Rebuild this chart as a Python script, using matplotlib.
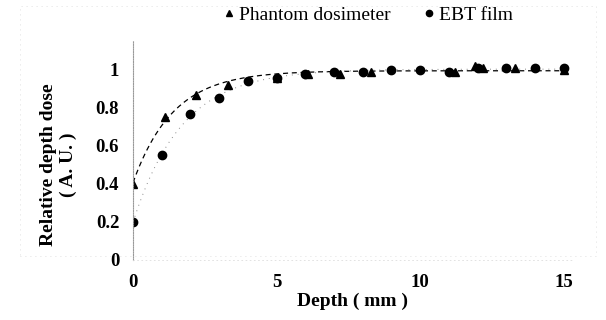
import numpy as np
import matplotlib
matplotlib.use("Agg")
import matplotlib.pyplot as plt
from matplotlib.lines import Line2D

# Data
ebt_x = [0, 1, 2, 3, 4, 5, 6, 7, 8, 9, 10, 11, 12, 13, 14, 15]
ebt_y = [0.20, 0.55, 0.77, 0.85, 0.94, 0.96, 0.98, 0.99, 0.99, 1.00, 1.00, 0.99, 1.01, 1.01, 1.01, 1.01]
ph_x = [0, 1.1, 2.2, 3.3, 5.0, 6.1, 7.2, 8.3, 11.2, 11.9, 12.2, 13.3, 15.0]
ph_y = [0.40, 0.75, 0.87, 0.92, 0.96, 0.98, 0.98, 0.99, 0.99, 1.02, 1.01, 1.01, 1.00]
xticks = [0, 5, 10, 15]
yticks = [0, 0.2, 0.4, 0.6, 0.8, 1.0]
ytick_labels = ["0", "0.2", "0.4", "0.6", "0.8", "1"]

def sat_fit(x, y):
    x = np.asarray(x, float); y = np.asarray(y, float)
    best = None
    for c in np.linspace(0.3, 5, 300):
        M = np.column_stack([np.ones_like(x), -np.exp(-x / c)])
        coef, *_ = np.linalg.lstsq(M, y, rcond=None)
        r = np.sum((M @ coef - y) ** 2)
        if best is None or r < best[0]:
            best = (r, coef, c)
    _, (A, B), c = best
    return lambda t: A - B * np.exp(-t / c)

plt.rcParams['font.family'] = ['Liberation Serif', 'DejaVu Serif']
fig = plt.figure(figsize=(6.06, 3.2), dpi=100)
ax = fig.add_axes([0.2195, 0.1875, 0.725, 0.683])

t = np.linspace(0, 15, 300)
f_ph = sat_fit(ph_x, ph_y)
f_ebt = sat_fit(ebt_x, ebt_y)
ax.plot(t, f_ph(t), color='black', lw=0.9, ls=(0, (4, 3)))
ax.plot(t, f_ebt(t), color='#888888', lw=0.7, ls=(0, (1, 5)))
ax.plot(ebt_x, ebt_y, 'o', color='black', ms=6, ls='none')
ax.plot(ph_x, ph_y, '^', color='black', ms=6, ls='none')

ax.set_xlim(0, 15.3)
ax.set_ylim(0, 1.15)
ax.set_xticks(xticks)
ax.set_yticks(yticks)
ax.set_yticklabels(ytick_labels)
for s in ['top', 'right']:
    ax.spines[s].set_visible(False)
ax.spines['left'].set_color('#999999')
ax.spines['left'].set_linestyle((0, (1, 1.2)))
ax.spines['left'].set_linewidth(0.8)
ax.spines['bottom'].set_color('#dddddd')
ax.spines['bottom'].set_linestyle((0, (1, 4)))
ax.spines['bottom'].set_linewidth(0.6)
ax.tick_params(length=0, labelsize=13.5, pad=10)
for lab in ax.get_xticklabels() + ax.get_yticklabels():
    lab.set_fontweight('bold')
ax.set_xlabel('Depth ( mm )', fontsize=14, fontweight='bold', labelpad=1)
ax.set_ylabel('Relative depth dose\n( A. U. )', fontsize=14, fontweight='bold')
ax.yaxis.set_label_coords(-0.128, 0.435)

handles = [Line2D([], [], marker='^', color='black', ls='none', ms=4),
           Line2D([], [], marker='o', color='black', ls='none', ms=4.5)]
fig.legend(handles, ['Phantom dosimeter', 'EBT film'], loc='center left', bbox_to_anchor=(0.365, 0.952),
           ncol=2, frameon=False, handletextpad=0.1, columnspacing=1.6, handlelength=0.8,
           borderaxespad=0, borderpad=0, prop={'size': 14})

# faint dotted outer border
fig.patches.append(plt.Rectangle((0.033, 0.2), 0.95, 0.78, transform=fig.transFigure,
                                 fill=False, ec='#d5d5d5', lw=0.6, ls=(0, (1, 5))))
fig.savefig('out.png', dpi=100, facecolor='white')
